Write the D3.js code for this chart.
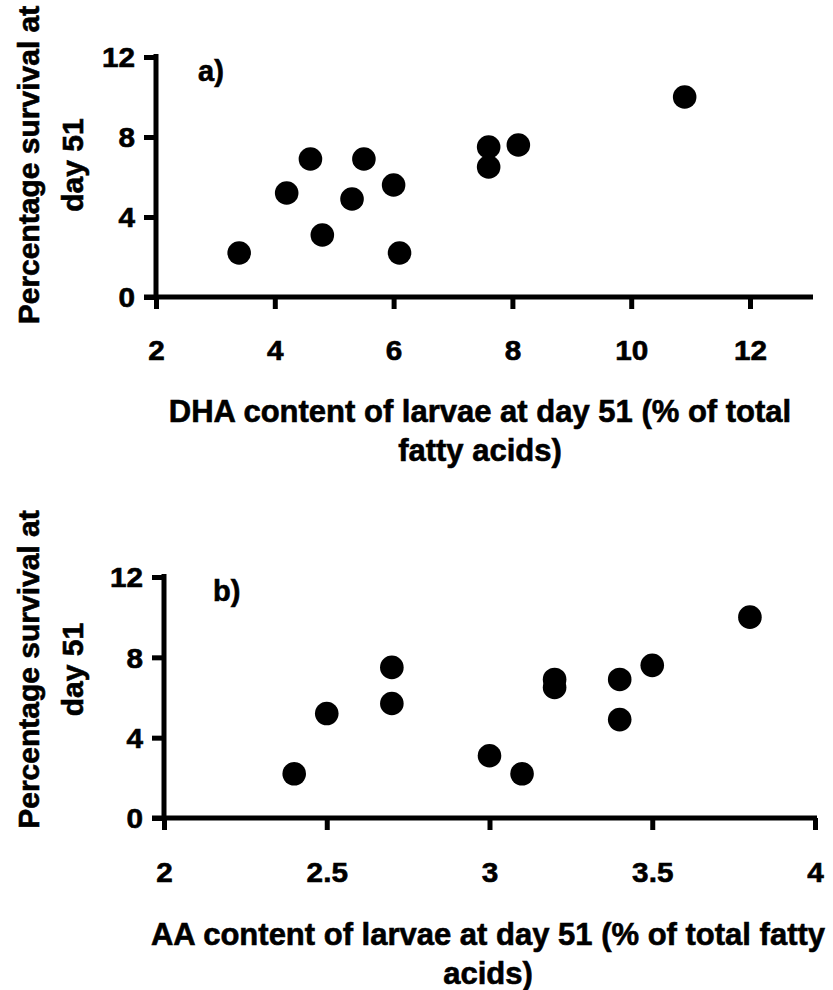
<!DOCTYPE html>
<html>
<head>
<meta charset="utf-8">
<script src="https://cdn.jsdelivr.net/npm/d3@7"></script>
<style>
  html, body { margin: 0; padding: 0; background: #fff; }
  svg { display: block; }
  text { font-family: "Liberation Sans", Arial, Helvetica, sans-serif; font-weight: bold; fill: #000; stroke: #000; stroke-width: 0.6px; }
</style>
</head>
<body>
<svg id="chart" width="833" height="990"></svg>
<script>
// Survival at day 51 (%) against larval fatty-acid content
const survival = [2.2, 5.2, 6.9, 3.1, 4.9, 6.9, 5.6, 2.2, 7.5, 6.5, 7.6, 10.0];
const dhaContent = [3.4, 4.2, 4.6, 4.8, 5.3, 5.5, 6.0, 6.1, 7.6, 7.6, 8.1, 10.9];

const survivalB = [2.2, 5.2, 7.5, 5.7, 3.1, 2.2, 6.9, 6.5, 6.9, 4.9, 7.6, 10.0];
const aaContent = [2.4, 2.5, 2.7, 2.7, 3.0, 3.1, 3.2, 3.2, 3.4, 3.4, 3.5, 3.8];

const yTicks = [0, 4, 8, 12];
const xTicksA = [2, 4, 6, 8, 10, 12];
const xTicksB = [2, 2.5, 3, 3.5, 4];

const yTitle = ["Percentage survival at", "day 51"];
const xTitleA = ["DHA content of larvae at day 51 (% of total", "fatty acids)"];
const xTitleB = ["AA content of larvae at day 51 (% of total fatty", "acids)"];

const svg = d3.select("#chart");
const FONT = '"Liberation Sans", Arial, Helvetica, sans-serif';

// widen heavy bold glyphs horizontally
function widen(sel, k) {
  sel.each(function () {
    const w = this.getComputedTextLength();
    d3.select(this).attr("textLength", w * k).attr("lengthAdjust", "spacingAndGlyphs");
  });
}

function styleTickText(sel) {
  return sel.attr("font-size", 27)
    .style("font-family", FONT).style("font-weight", "bold")
    .attr("fill", "#000").attr("stroke", "#000").attr("stroke-width", 0.6);
}

function panel(cfg) {
  const g = svg.append("g");
  const x = d3.scaleLinear().domain(cfg.xDomain).range(cfg.xRange);
  const y = d3.scaleLinear().domain([0, 12]).range(cfg.yRange);
  const x0 = x(cfg.xDomain[0]);
  const y0 = y(0);

  // axis lines
  g.append("line")
    .attr("x1", x0).attr("x2", x0)
    .attr("y1", y(12) - 3).attr("y2", y0 + 2)
    .attr("stroke", "#000").attr("stroke-width", 5);
  g.append("line")
    .attr("x1", x0 - 12).attr("x2", cfg.xEnd)
    .attr("y1", y0).attr("y2", y0)
    .attr("stroke", "#000").attr("stroke-width", 5);

  // y axis ticks and labels
  const ya = d3.axisLeft(y).tickValues(yTicks).tickSize(12).tickPadding(9).tickFormat(d3.format("d"));
  const yg = g.append("g").attr("transform", `translate(${x0},0)`).call(ya);
  yg.select(".domain").remove();
  yg.selectAll(".tick line").attr("stroke", "#000").attr("stroke-width", 5);
  const yt = styleTickText(yg.selectAll(".tick text")).attr("dy", "0.36em");
  widen(yt, 1.1);

  // x axis ticks and labels
  const xa = d3.axisBottom(x).tickValues(cfg.xTicks).tickSize(12).tickPadding(0).tickFormat(d => String(d));
  const xg = g.append("g").attr("transform", `translate(0,${y0})`).call(xa);
  xg.select(".domain").remove();
  xg.selectAll(".tick line").attr("stroke", "#000").attr("stroke-width", 5);
  const xt = styleTickText(xg.selectAll(".tick text")).attr("y", cfg.tickBase).attr("dy", 0);
  widen(xt, 1.1);

  // data points
  g.selectAll("circle.pt").data(cfg.xs.map((v, i) => [v, cfg.ys[i]])).enter()
    .append("circle").attr("class", "pt")
    .attr("cx", d => x(d[0])).attr("cy", d => y(d[1]))
    .attr("r", 11.8).attr("fill", "#000");

  // panel letter
  g.append("text").attr("x", cfg.letterX).attr("y", y(12) + 24)
    .attr("font-size", 29).text(cfg.letter);

  // y title (two rotated lines)
  const yMid = (y(0) + y(12)) / 2 + cfg.yTitleShift;
  yTitle.forEach((t, i) => {
    g.append("text")
      .attr("transform", `translate(${39 + i * 44},${yMid}) rotate(-90)`)
      .attr("text-anchor", "middle").attr("font-size", 30).text(t);
  });

  // x title (two lines)
  cfg.xTitle.forEach((t, i) => {
    g.append("text").attr("x", cfg.xTitleX).attr("y", y0 + cfg.titleBase + i * 39)
      .attr("text-anchor", "middle").attr("font-size", 31).text(t);
  });
}

panel({
  xDomain: [2, 12], xRange: [156, 750], xEnd: 813, yRange: [297, 57],
  xTicks: xTicksA, xs: dhaContent, ys: survival, tickBase: 63, titleBase: 125,
  letter: "a)", letterX: 198, xTitle: xTitleA, xTitleX: 480, yTitleShift: -12
});

panel({
  xDomain: [2, 4], xRange: [164, 815], xEnd: 817, yRange: [818, 577],
  xTicks: xTicksB, xs: aaContent, ys: survivalB, tickBase: 64, titleBase: 127,
  letter: "b)", letterX: 213, xTitle: xTitleB, xTitleX: 488, yTitleShift: -28
});
</script>
</body>
</html>
